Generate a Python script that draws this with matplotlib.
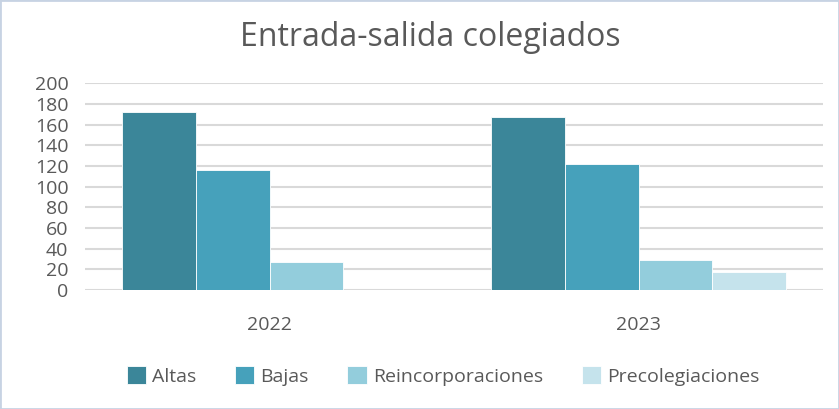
import matplotlib
matplotlib.use("Agg")
import matplotlib.pyplot as plt
import numpy as np

plt.rcParams['font.family'] = ['Open Sans', 'DejaVu Sans']

# datos
years = ['2022', '2023']
series = ['Altas', 'Bajas', 'Reincorporaciones', 'Precolegiaciones']
altas = [172, 167]
bajas = [116, 122]
reincorporaciones = [27, 29]
precolegiaciones = [0, 17]
values = [altas, bajas, reincorporaciones, precolegiaciones]
colors = ['#3B8699', '#46A1BB', '#93CDDC', '#C5E3EC']

fig = plt.figure(figsize=(8.39, 4.09), dpi=100)
ax = fig.add_axes([85 / 839, 1 - 290 / 409, 738 / 839, 206.7 / 409])

x = np.arange(len(years))
w = 0.2
for i, (name, vals) in enumerate(zip(series, values)):
    ax.bar(x + (i - 1.5) * w, vals, w, color=colors[i], label=name,
           edgecolor='white', linewidth=0.6, zorder=3)

ax.set_xlim(-0.5, 1.5)
ax.set_ylim(0, 200)
ax.set_yticks(range(0, 201, 20))
ax.set_xticks(x)
ax.set_xticklabels(years)
ax.grid(axis='y', color='#D9D9D9', linewidth=1.5, zorder=0)
for s in ax.spines.values():
    s.set_visible(False)
ax.tick_params(length=0, colors='#595959', labelsize=14)
ax.tick_params(axis='x', pad=19)
ax.tick_params(axis='y', pad=12)

fig.text(430 / 839, 1 - 38 / 409, 'Entrada-salida colegiados', ha='center', va='center',
         fontsize=23, color='#595959')

fig.legend(loc='center', bbox_to_anchor=(0.528, 1 - 376 / 409), ncol=4, frameon=False,
           fontsize=14, labelcolor='#595959', handlelength=1.0, handleheight=1.0,
           handletextpad=0.3, columnspacing=2.0)

fig.patches.append(plt.Rectangle((0, 0), 1, 1, transform=fig.transFigure,
                                 fill=False, edgecolor='#C7D3E3', linewidth=2))

fig.savefig('out.png', dpi=100)
